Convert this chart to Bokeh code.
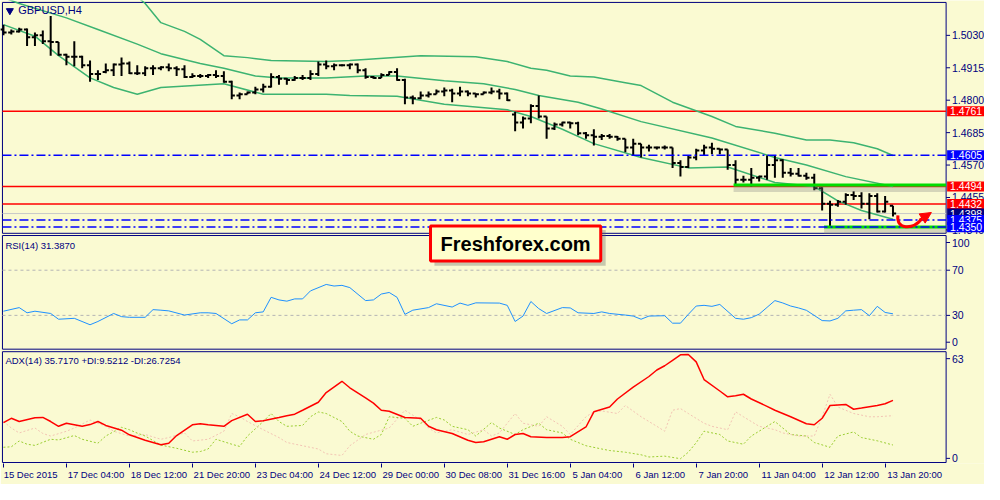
from bokeh.plotting import figure
from bokeh.models import Range1d, LinearAxis, FixedTicker, Label, Arrow, NormalHead
from bokeh.core.properties import value
from bokeh.embed import file_html
from bokeh.resources import INLINE

# ---------------- data ----------------
symbol = "GBPUSD,H4"
time_labels = ["15 Dec 2015", "17 Dec 04:00", "18 Dec 12:00", "21 Dec 20:00", "23 Dec 04:00",
               "24 Dec 12:00", "29 Dec 00:00", "30 Dec 08:00", "31 Dec 16:00", "5 Jan 04:00",
               "6 Jan 12:00", "7 Jan 20:00", "11 Jan 04:00", "12 Jan 12:00", "13 Jan 20:00"]
bars_per_label = 8

bar_open = [1.5051, 1.5040, 1.5044, 1.5051, 1.5023, 1.5030, 1.5009, 1.5006, 1.4961, 1.4954,
            1.4954, 1.4924, 1.4893, 1.4900, 1.4906, 1.4927, 1.4930, 1.4896, 1.4896, 1.4913,
            1.4913, 1.4917, 1.4913, 1.4910, 1.4882, 1.4886, 1.4886, 1.4889, 1.4886, 1.4865,
            1.4817, 1.4821, 1.4827, 1.4838, 1.4848, 1.4882, 1.4876, 1.4872, 1.4879, 1.4879,
            1.4893, 1.4927, 1.4920, 1.4924, 1.4924, 1.4927, 1.4906, 1.4882, 1.4879, 1.4889,
            1.4900, 1.4872, 1.4810, 1.4807, 1.4817, 1.4821, 1.4831, 1.4834, 1.4824, 1.4831,
            1.4824, 1.4821, 1.4827, 1.4831, 1.4824, 1.4749, 1.4721, 1.4735, 1.4779, 1.4742,
            1.4700, 1.4714, 1.4721, 1.4718, 1.4683, 1.4676, 1.4670, 1.4673, 1.4670, 1.4663,
            1.4632, 1.4646, 1.4632, 1.4632, 1.4632, 1.4632, 1.4577, 1.4563, 1.4597, 1.4622,
            1.4632, 1.4628, 1.4625, 1.4570, 1.4518, 1.4518, 1.4525, 1.4529, 1.4570, 1.4587,
            1.4543, 1.4539, 1.4532, 1.4525, 1.4488, 1.4433, 1.4429, 1.4440, 1.4464, 1.4460,
            1.4433, 1.4460, 1.4405, 1.4426]
bar_high = [1.5068, 1.5051, 1.5057, 1.5054, 1.5040, 1.5047, 1.5099, 1.5006, 1.4965, 1.5009,
            1.4958, 1.4941, 1.4906, 1.4930, 1.4930, 1.4951, 1.4937, 1.4924, 1.4920, 1.4924,
            1.4920, 1.4930, 1.4920, 1.4924, 1.4896, 1.4893, 1.4893, 1.4906, 1.4903, 1.4869,
            1.4827, 1.4831, 1.4848, 1.4858, 1.4896, 1.4889, 1.4879, 1.4886, 1.4889, 1.4906,
            1.4937, 1.4941, 1.4930, 1.4927, 1.4930, 1.4930, 1.4913, 1.4886, 1.4896, 1.4903,
            1.4913, 1.4876, 1.4817, 1.4831, 1.4831, 1.4838, 1.4845, 1.4841, 1.4848, 1.4834,
            1.4824, 1.4831, 1.4845, 1.4841, 1.4827, 1.4759, 1.4742, 1.4786, 1.4817, 1.4742,
            1.4721, 1.4724, 1.4724, 1.4724, 1.4687, 1.4697, 1.4680, 1.4680, 1.4673, 1.4663,
            1.4663, 1.4646, 1.4642, 1.4635, 1.4639, 1.4632, 1.4587, 1.4604, 1.4628, 1.4642,
            1.4649, 1.4628, 1.4625, 1.4587, 1.4532, 1.4560, 1.4532, 1.4604, 1.4604, 1.4591,
            1.4560, 1.4560, 1.4543, 1.4539, 1.4491, 1.4443, 1.4446, 1.4470, 1.4477, 1.4474,
            1.4470, 1.4470, 1.4460, 1.4426]
bar_low = [1.5030, 1.5033, 1.5040, 1.4992, 1.4992, 1.4999, 1.4958, 1.4958, 1.4924, 1.4920,
           1.4913, 1.4865, 1.4872, 1.4896, 1.4886, 1.4886, 1.4893, 1.4889, 1.4886, 1.4889,
           1.4906, 1.4903, 1.4886, 1.4879, 1.4879, 1.4879, 1.4879, 1.4879, 1.4862, 1.4803,
           1.4803, 1.4821, 1.4821, 1.4827, 1.4845, 1.4855, 1.4855, 1.4869, 1.4872, 1.4872,
           1.4886, 1.4910, 1.4906, 1.4920, 1.4910, 1.4896, 1.4876, 1.4876, 1.4879, 1.4889,
           1.4869, 1.4786, 1.4786, 1.4803, 1.4810, 1.4821, 1.4814, 1.4793, 1.4814, 1.4814,
           1.4810, 1.4821, 1.4821, 1.4803, 1.4797, 1.4690, 1.4700, 1.4718, 1.4735, 1.4663,
           1.4694, 1.4707, 1.4700, 1.4676, 1.4663, 1.4639, 1.4659, 1.4663, 1.4656, 1.4615,
           1.4604, 1.4597, 1.4618, 1.4625, 1.4625, 1.4560, 1.4529, 1.4560, 1.4587, 1.4604,
           1.4608, 1.4608, 1.4553, 1.4501, 1.4508, 1.4494, 1.4512, 1.4518, 1.4525, 1.4525,
           1.4529, 1.4529, 1.4518, 1.4481, 1.4409, 1.4350, 1.4422, 1.4429, 1.4446, 1.4416,
           1.4378, 1.4402, 1.4402, 1.4388]
bar_close = [1.5040, 1.5044, 1.5051, 1.5023, 1.5030, 1.5009, 1.5006, 1.4961, 1.4954, 1.4954,
             1.4924, 1.4893, 1.4893, 1.4906, 1.4927, 1.4930, 1.4896, 1.4896, 1.4913, 1.4913,
             1.4917, 1.4913, 1.4910, 1.4882, 1.4886, 1.4886, 1.4889, 1.4886, 1.4865, 1.4817,
             1.4821, 1.4827, 1.4838, 1.4848, 1.4882, 1.4876, 1.4872, 1.4879, 1.4879, 1.4893,
             1.4927, 1.4920, 1.4924, 1.4924, 1.4927, 1.4906, 1.4882, 1.4879, 1.4889, 1.4900,
             1.4872, 1.4810, 1.4807, 1.4817, 1.4821, 1.4831, 1.4834, 1.4824, 1.4831, 1.4824,
             1.4821, 1.4827, 1.4831, 1.4824, 1.4800, 1.4721, 1.4735, 1.4779, 1.4742, 1.4700,
             1.4714, 1.4721, 1.4718, 1.4683, 1.4676, 1.4670, 1.4673, 1.4670, 1.4663, 1.4632,
             1.4646, 1.4632, 1.4632, 1.4632, 1.4632, 1.4577, 1.4563, 1.4597, 1.4622, 1.4632,
             1.4628, 1.4625, 1.4570, 1.4518, 1.4518, 1.4525, 1.4529, 1.4570, 1.4587, 1.4543,
             1.4539, 1.4532, 1.4525, 1.4488, 1.4433, 1.4429, 1.4440, 1.4464, 1.4460, 1.4433,
             1.4460, 1.4405, 1.4440, 1.4398]

band_upper_bar = [16, 18, 20, 23, 25, 28, 31, 34, 41, 44, 53, 60, 64, 67, 69, 72, 75, 79, 81, 85,
                  90, 93, 98, 102, 105, 108, 111, 113]
band_upper = [1.5190, 1.5143, 1.5075, 1.5044, 1.5016, 1.4958, 1.4951, 1.4941, 1.4937, 1.4941,
              1.4958, 1.4954, 1.4937, 1.4913, 1.4906, 1.4886, 1.4882, 1.4862, 1.4852, 1.4793,
              1.4742, 1.4707, 1.4683, 1.4659, 1.4659, 1.4649, 1.4628, 1.4604]
band_mid_bar = [0, 2, 8, 12, 17, 20, 25, 28, 32, 35, 41, 46, 50, 56, 61, 65, 68, 73, 76, 81,
                90, 98, 102, 107, 113]
band_mid = [1.5164, 1.5143, 1.5092, 1.5051, 1.4999, 1.4965, 1.4930, 1.4913, 1.4886, 1.4879,
            1.4879, 1.4886, 1.4886, 1.4869, 1.4858, 1.4838, 1.4817, 1.4793, 1.4769, 1.4724,
            1.4666, 1.4597, 1.4570, 1.4529, 1.4494]
band_lower_bar = [0, 4, 7, 11, 14, 17, 20, 28, 33, 41, 44, 50, 56, 64, 67, 71, 75, 81, 87, 92,
                  98, 103, 106, 109, 113]
band_lower = [1.5068, 1.5027, 1.4958, 1.4879, 1.4845, 1.4821, 1.4845, 1.4858, 1.4821, 1.4821,
              1.4817, 1.4814, 1.4786, 1.4766, 1.4742, 1.4697, 1.4646, 1.4597, 1.4560, 1.4563,
              1.4508, 1.4494, 1.4443, 1.4409, 1.4378]

resistance_levels = [1.4761, 1.4494, 1.4432]
support_levels = [1.4605, 1.4375, 1.4350]
zone_levels = [1.4499, 1.4350]
zone_start_bar = [92.75, 104.25]
price_ticks = [1.5030, 1.4915, 1.4800, 1.4685, 1.4570, 1.4455, 1.4340]

rsi_bar = [0, 2, 3, 4, 6, 7, 9, 11, 12, 14, 15, 16, 18, 19, 20, 21, 23, 25, 26, 27,
           29, 30, 31, 32, 33, 34, 35, 36, 37, 38, 39, 41, 42, 43, 44, 46, 47, 48, 49, 50,
           51, 52, 54, 55, 57, 58, 59, 60, 63, 64, 65, 66, 67, 68, 69, 71, 72, 73, 75, 76,
           77, 79, 80, 81, 82, 84, 85, 86, 87, 88, 89, 90, 91, 93, 94, 95, 96, 98, 99, 100,
           101, 102, 104, 105, 106, 107, 108, 109, 110, 111, 112, 113]
rsi_val = [33.7, 36.9, 32.3, 33.7, 31.7, 26.6, 27.4, 21.7, 24.6, 31.7, 28.9, 28.3, 28.3, 35.1, 34.6,
           34.0, 30.3, 32.3, 32.3, 31.7, 22.6, 26.0, 26.0, 32.3, 33.1, 46.0, 43.7, 42.6, 44.6, 44.6,
           51.7, 57.4, 56.0, 56.6, 54.6, 43.1, 43.7, 48.9, 50.3, 46.0, 30.9, 34.6, 36.9, 40.3, 37.4,
           40.9, 38.9, 41.1, 40.9, 38.9, 24.6, 29.4, 42.3, 36.0, 31.7, 36.9, 36.6, 32.3, 31.7, 33.1,
           31.7, 30.3, 29.4, 26.6, 29.4, 29.7, 23.1, 23.1, 30.9, 38.3, 38.9, 38.0, 39.7, 27.4, 26.6,
           28.0, 31.1, 43.1, 41.0, 38.3, 36.6, 34.5, 25.4, 25.1, 27.4, 34.0, 34.6, 35.1, 29.7, 38.0,
           32.6, 31.387]
rsi_levels = [70, 30]

adx_bar = [0, 1, 2, 4, 5, 6, 7, 8, 10, 11, 12, 13, 15, 16, 18, 20, 21, 22, 24, 25,
           26, 28, 29, 31, 32, 33, 35, 36, 37, 38, 40, 41, 43, 44, 46, 47, 48, 49, 51, 53,
           54, 55, 57, 59, 60, 61, 63, 64, 65, 66, 67, 69, 71, 72, 74, 75, 77, 78, 80, 82,
           83, 84, 85, 86, 87, 88, 89, 91, 92, 93, 94, 95, 97, 98, 100, 102, 103, 104, 105, 107,
           108, 109, 111, 112, 113]
adx_val = [22.7, 25.2, 23.3, 25.5, 25.7, 23.3, 20.5, 22.3, 20.5, 21.5, 23.3, 21.0, 18.2, 15.5, 12.3,
           9.7, 10.6, 15.1, 21.4, 22.0, 21.4, 20.5, 23.8, 27.6, 23.3, 23.8, 25.7, 26.7, 27.6, 29.9,
           34.6, 40.3, 46.9, 43.1, 37.1, 34.1, 29.9, 29.3, 25.7, 25.2, 20.5, 18.5, 16.3, 12.3, 11.0,
           11.4, 14.4, 12.9, 15.7, 16.3, 14.4, 14.0, 14.0, 14.4, 20.1, 29.0, 31.8, 36.5, 43.5, 49.7,
           53.5, 56.0, 59.2, 62.4, 62.6, 58.3, 47.9, 41.2, 37.8, 38.4, 39.3, 36.5, 32.2, 29.9, 26.1,
           22.0, 21.4, 25.2, 32.7, 33.3, 30.5, 31.2, 32.7, 33.7, 35.717]
pdi_bar = [0, 1, 2, 3, 4, 6, 7, 9, 10, 12, 13, 15, 16, 17, 18, 20, 22, 24, 25, 26,
           27, 29, 30, 31, 33, 34, 35, 36, 38, 39, 40, 41, 43, 44, 45, 47, 48, 49, 51, 52,
           53, 55, 56, 57, 59, 60, 62, 63, 65, 66, 68, 69, 71, 72, 74, 76, 77, 79, 81, 82,
           84, 86, 87, 88, 89, 91, 92, 94, 95, 97, 98, 99, 100, 102, 103, 105, 106, 108, 109, 111,
           113]
pdi_val = [8.2, 8.5, 11.9, 10.0, 9.3, 12.9, 12.5, 15.1, 12.9, 10.6, 14.8, 19.9, 18.5, 16.5, 14.8,
           9.5, 7.6, 5.3, 5.7, 7.2, 12.9, 10.0, 8.7, 14.8, 23.3, 28.0, 23.3, 20.5, 21.0, 26.1,
           28.9, 28.0, 23.3, 17.6, 14.8, 12.9, 15.7, 26.1, 25.2, 20.5, 22.3, 25.7, 24.2, 20.5, 18.5,
           14.8, 22.7, 19.5, 15.7, 18.5, 22.3, 18.5, 16.6, 12.9, 9.1, 7.2, 6.3, 5.3, 3.8, 2.5,
           3.0, 1.5, 5.3, 10.9, 17.6, 15.7, 11.9, 10.0, 14.8, 20.5, 23.3, 19.5, 15.7, 14.8, 11.0,
           8.2, 14.8, 17.2, 13.9, 12.0, 9.5212]
mdi_bar = [0, 1, 2, 4, 5, 6, 8, 9, 11, 13, 14, 16, 18, 20, 21, 23, 24, 26, 28, 29,
           30, 31, 33, 35, 36, 38, 40, 41, 43, 44, 46, 47, 49, 51, 53, 54, 55, 57, 59, 61,
           62, 63, 65, 66, 68, 69, 71, 72, 74, 75, 76, 78, 79, 81, 83, 84, 85, 86, 87, 89,
           90, 92, 93, 94, 96, 98, 99, 101, 103, 104, 105, 106, 108, 110, 111, 113]
mdi_val = [23.3, 19.5, 16.6, 19.5, 16.3, 14.8, 17.6, 19.5, 24.2, 20.5, 17.6, 14.8, 15.7, 12.9, 13.9,
           16.6, 11.9, 12.9, 17.6, 28.0, 26.1, 23.3, 18.5, 13.9, 11.0, 9.1, 7.2, 4.4, 3.4, 9.1,
           15.7, 17.0, 19.5, 29.9, 24.2, 19.5, 16.6, 18.5, 15.7, 18.5, 14.8, 16.6, 28.0, 22.3, 20.5,
           26.1, 20.5, 15.7, 26.1, 29.0, 29.5, 28.0, 32.7, 26.1, 20.5, 17.6, 29.9, 30.9, 28.0, 22.3,
           20.5, 18.5, 29.0, 26.1, 20.5, 18.5, 16.6, 14.8, 14.8, 26.1, 39.3, 31.8, 28.0, 26.1, 26.1,
           26.7254]

# ---------------- layout (geometry of the 1000x500 reference, in its pixels) ----------------
NAVY = "#000080"
BG = "#FAFAD2"
FONT = "Liberation Sans"
CANVAS_W, CANVAS_H = 984, 484
SX, SY = CANVAS_W / 1000.0, CANVAS_H / 500.0
FRAME_H = 463
REF_LEFT, REF_RIGHT, REF_TOP, REF_BOTTOM = 0.0, 1000.0, 0.0, FRAME_H / SY
PANEL_L, PANEL_R = 2.0, 961.0


def bar_at(px):
    return (px - 3.0) / 8.0


def price_at(py):
    return 1.5030 - (py - 36.0) / 2913.0


def rsi_at(py):
    return (360.3 - py) / 1.1667


def adx_at(py):
    return (476.0 - py) / 1.762


x_range = Range1d(bar_at(REF_LEFT), bar_at(REF_RIGHT))
price_range = Range1d(price_at(REF_BOTTOM), price_at(REF_TOP))
rsi_range = Range1d(rsi_at(REF_BOTTOM), rsi_at(REF_TOP))
adx_range = Range1d(adx_at(REF_BOTTOM), adx_at(REF_TOP))


def on_price_scale(v, rng):
    return price_range.start + (v - rng.start) / (rng.end - rng.start) * (price_range.end - price_range.start)


p = figure(frame_width=CANVAS_W, frame_height=FRAME_H, x_range=x_range, y_range=price_range,
           x_axis_type=None, y_axis_type=None, output_backend="svg", toolbar_location=None,
           min_border_left=0, min_border_top=0, min_border_right=0, min_border_bottom=CANVAS_H - FRAME_H,
           background_fill_color=BG, border_fill_color=BG, outline_line_color=None)
p.extra_y_ranges = {"rsi": rsi_range, "adx": adx_range}

xa, xb = bar_at(PANEL_L), bar_at(PANEL_R)

# panel frames (main, RSI, ADX)
panel_tops = [price_at(2.0), price_at(242.8), price_at(362.8)]
panel_bottoms = [price_at(240.5), price_at(360.2), price_at(477.3)]
p.quad(left=[xa] * 3, right=[xb] * 3, top=panel_tops, bottom=panel_bottoms,
       fill_color=None, line_color=NAVY, line_width=1)

n_bars = len(bar_close)
idx = list(range(n_bars))

# bid line
p.segment(x0=[xa], y0=[bar_close[-1]], x1=[xb], y1=[bar_close[-1]], line_color="#C8C8C8", line_width=1)
# resistance levels
p.segment(x0=[xa] * len(resistance_levels), y0=resistance_levels, x1=[xb] * len(resistance_levels),
          y1=resistance_levels, line_color="#FF0000", line_width=1.5)

# bands
BAND = "#3CB371"
p.line(band_upper_bar, band_upper, line_color=BAND, line_width=1.5)
p.line(band_mid_bar, band_mid, line_color=BAND, line_width=1.5)
p.line(band_lower_bar, band_lower, line_color=BAND, line_width=1.5)

# OHLC bars
tick = 0.4
p.segment(x0=idx, y0=bar_low, x1=idx, y1=bar_high, line_color="black", line_width=2)
p.segment(x0=[i - tick for i in idx], y0=bar_open, x1=idx, y1=bar_open, line_color="black", line_width=2)
p.segment(x0=idx, y0=bar_close, x1=[i + tick for i in idx], y1=bar_close, line_color="black", line_width=2)

# green zones with shadow
dp = price_at(0) - price_at(4)
p.segment(x0=zone_start_bar, y0=[z - dp for z in zone_levels], x1=[xb] * len(zone_levels),
          y1=[z - dp for z in zone_levels], line_color="#808080", line_alpha=0.3, line_width=6)
p.segment(x0=zone_start_bar, y0=zone_levels, x1=[xb] * len(zone_levels), y1=zone_levels,
          line_color="#00DD00", line_width=3)

# support levels (dash-dot)
p.segment(x0=[xa] * len(support_levels), y0=support_levels, x1=[xb] * len(support_levels),
          y1=support_levels, line_color="#0000FF", line_width=1.5, line_dash="9 3 2 3")

# red curved arrow
p.bezier(x0=[bar_at(912)], y0=[price_at(222)], x1=[bar_at(936)], y1=[price_at(226)],
         cx0=[bar_at(910)], cy0=[price_at(237)], cx1=[bar_at(927)], cy1=[price_at(237)],
         line_color="#FF0000", line_width=3)
p.add_layout(Arrow(end=NormalHead(size=11, fill_color="#FF0000", line_color="#FF0000"),
                   x_start=bar_at(934), y_start=price_at(227), x_end=bar_at(946), y_end=price_at(219),
                   line_color="#FF0000", line_width=3))

# RSI panel
p.segment(x0=[xa] * len(rsi_levels), y0=rsi_levels, x1=[xb] * len(rsi_levels), y1=rsi_levels,
          y_range_name="rsi", line_color="#B4B4B4", line_dash="3 3", line_width=1)
p.line(rsi_bar, rsi_val, y_range_name="rsi", line_color="#1E90FF", line_width=1)

# ADX panel
p.line(pdi_bar, pdi_val, y_range_name="adx", line_color="#9ACD32", line_dash="2 2", line_width=1)
p.line(mdi_bar, mdi_val, y_range_name="adx", line_color="#F2C4B4", line_dash="2 2", line_width=1)
p.line(adx_bar, adx_val, y_range_name="adx", line_color="#FF0000", line_width=1.5)

# logo
p.quad(left=[bar_at(441)], right=[bar_at(615)], top=[price_at(237)], bottom=[price_at(274)],
       fill_color="#666666", fill_alpha=0.35, line_color=None)
p.quad(left=[bar_at(437)], right=[bar_at(610)], top=[price_at(233)], bottom=[price_at(269)],
       fill_color="#FFFFCC", line_color="#FF0000", line_width=3)
p.add_layout(Label(x=bar_at(523.5), y=price_at(251.5), text="Freshforex.com", text_align="center",
                   text_baseline="middle", text_font=FONT, text_font_style="bold",
                   text_font_size="20px", text_color="black"))

# titles
p.scatter([bar_at(9.5)], [price_at(10.5)], marker="inverted_triangle", size=7, color=NAVY)
p.add_layout(Label(x=bar_at(18), y=price_at(3.5), text=symbol, text_baseline="top",
                   text_font=FONT, text_font_size="11px", text_color=NAVY))
p.add_layout(Label(x=bar_at(5), y=price_at(247.5), text=f"RSI(14) {rsi_val[-1]:.4f}",
                   text_baseline="top", text_font=FONT, text_font_size="9.5px", text_color=NAVY))
p.add_layout(Label(x=bar_at(5), y=price_at(366),
                   text=f"ADX(14) {adx_val[-1]:.4f} +DI:{pdi_val[-1]:.4f} -DI:{mdi_val[-1]:.4f}",
                   text_baseline="top", text_font=FONT, text_font_size="9.5px", text_color=NAVY))

# right-hand scale: prices, then RSI and ADX scale marks mapped onto the same frame
rsi_tick_vals = [rsi_at(250.0), 70.0, 30.0, rsi_at(353.0)]
rsi_tick_text = ["100", "70", "30", "0"]
adx_tick_vals = [adx_at(370.0), adx_at(473.0)]
adx_tick_text = ["63", "0"]
r_ticks = (list(price_ticks) + [on_price_scale(v, rsi_range) for v in rsi_tick_vals]
           + [on_price_scale(v, adx_range) for v in adx_tick_vals])
r_text = [f"{t:.4f}" for t in price_ticks] + rsi_tick_text + adx_tick_text
nr = len(r_ticks)
p.segment(x0=[xb] * nr, y0=r_ticks, x1=[bar_at(PANEL_R + 4)] * nr, y1=r_ticks, line_color=NAVY, line_width=1)
p.text(x=[bar_at(PANEL_R + 6)] * nr, y=r_ticks, text=r_text, text_font=value(FONT),
       text_font_size=value("10.5px"), text_color=NAVY, text_baseline="middle", text_align="left")

# price tags on the right scale
tag_values = [1.4761, 1.4605, 1.4494, 1.4432, bar_close[-1], 1.4375, 1.4350]
tag_colors = ["#FF0000", "#0000FF", "#FF0000", "#FF0000", NAVY, "#0000FF", "#0000FF"]
half_tag = price_at(0) - price_at(5.2)
for v, c in zip(tag_values, tag_colors):
    p.quad(left=[bar_at(PANEL_R + 1)], right=[bar_at(1000)], top=[v + half_tag], bottom=[v - half_tag],
           fill_color=c, line_color=None)
    p.text(x=[bar_at(PANEL_R + 4)], y=[v], text=[f"{v:.4f}"], text_font=value(FONT),
           text_font_size=value("10.5px"), text_color="white", text_baseline="middle", text_align="left")

# bottom time axis: tick marks on one axis, left-aligned labels on a second one
t_ticks = [i * bars_per_label for i in range(len(time_labels))]
tick_axis = LinearAxis(ticker=FixedTicker(ticks=t_ticks, minor_ticks=[]),
                       major_label_overrides={t: "" for t in t_ticks},
                       axis_line_color=None, major_tick_line_color=NAVY, major_tick_out=4,
                       major_tick_in=0, minor_tick_line_color=None, major_label_standoff=0,
                       major_label_text_font_size="0px")
p.add_layout(tick_axis, "below")
char_w = 4.75 / SX / 8.0  # width of one label character, in bars
label_pos = [t + len(s) * char_w / 2.0 + 1.0 / SX / 8.0 for t, s in zip(t_ticks, time_labels)]
label_axis = LinearAxis(ticker=FixedTicker(ticks=label_pos, minor_ticks=[]),
                        major_label_overrides=dict(zip(label_pos, time_labels)),
                        axis_line_color=None, major_tick_line_color=None, minor_tick_line_color=None,
                        major_tick_out=0, major_tick_in=0, major_label_standoff=1,
                        major_label_text_color=NAVY, major_label_text_font=FONT,
                        major_label_text_font_size="9.5px")
p.add_layout(label_axis, "below")

open("out.html", "w").write(file_html(p, INLINE))
